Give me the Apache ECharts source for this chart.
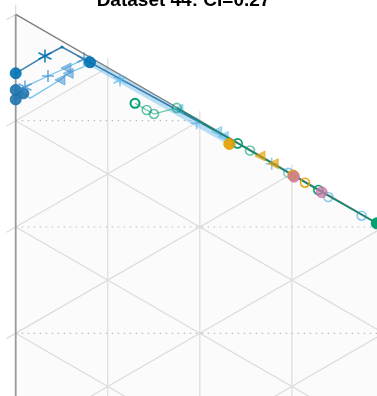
<!DOCTYPE html>
<html><head><meta charset="utf-8">
<script src="https://cdn.jsdelivr.net/npm/echarts@6/dist/echarts.min.js"></script>
<style>html,body{margin:0;padding:0;background:#fff}#c{width:377px;height:396px}</style>
</head><body><div id="c"></div>
<script>
// ---- text ----
const chartTitle = 'Dataset 44: CI=0.27';
// ---- ternary grid levels ----
const gridLevels = [0.1, 0.2, 0.3, 0.4, 0.5, 0.6, 0.7, 0.8, 0.9];
const dottedLevels = [0.9, 0.8, 0.7];
// ---- data: [c, b] ternary fractions (a = 1 - b - c) ----
const blueDark = [[0.000,0.0554],[0.0318,0.0232],[0.0503,0.0055],[0.0807,0.0047],[0.2002,0.0016],[0.2393,0.0004]];
const blueDarkMarks = ['fill','star','dot','fill','none','none'];
const blueMid = [[0.000,0.0711],[0.0101,0.0632],[0.0351,0.0404],[0.0546,0.0231],[0.0742,0.0049]];
const blueMidMarks = ['fillDark','star','plus','tri','star'];
const blueLow = [[0.000,0.0800],[0.0083,0.0701],[0.0155,0.0712],[0.0481,0.0376],[0.0570,0.0270],[0.0807,0.0063]];
const blueLowMarks = ['fillDark','fillDark','none','tri','tri','none'];
const blueBand = [[0.0785,0.0046],[0.2393,0.0034]];
const blueLight = [[0.1133,0.0051],[0.1763,0.0010],[0.1966,0.0041],[0.2183,0.0010],[0.2255,0.0020],[0.2781,0.0015],[0.2961,0.0010],[0.3396,0.0020],[0.3758,0.0015]];
const blueLightMarks = ['star','tri','plus','tri','tri','plus','open','open','open'];
const greenLight = [[0.1296,0.0188],[0.1423,0.0188],[0.1502,0.0186],[0.1749,0.0005]];
const greenLightMarks = ['openDark','open','open','open'];
const greenDark = [[0.1749,0.0005],[0.2411,0.0008],[0.2545,0.0008],[0.3287,0.0008],[0.3921,0.0005]];
const greenDarkMarks = ['none','open','openLight','open','fill'];
const orange = [[0.2320,0.0059],[0.2654,0.0005],[0.2798,0.0005],[0.3015,0.0008],[0.3143,0.0012]];
const orangeMarks = ['fill','tri','tri','fill','open'];
const pink = [[0.3023,0.0015],[0.3324,0.0011]];
const pinkMarks = ['fill','fill'];

// ternary -> cartesian (A top-left, B bottom-left, C right)
function toXY(c, b) { return [0.8660254 * c, 1 - b - 0.5 * c]; }

const TICK_B = 0.009, TICK_C = 0.01;
const gridSegs = [];
[0].concat(gridLevels).forEach(t => {
  const p1 = toXY(t, -TICK_B), p2 = t === 0 ? toXY(0, 0) : toXY(t, 1 - t);
  gridSegs.push([p1[0], p1[1], p2[0], p2[1]]);
});
gridLevels.concat([1]).forEach(t => {
  const p1 = toXY(-TICK_C, 1 - t + TICK_C), p2 = toXY(1 - t, 0);
  gridSegs.push([p1[0], p1[1], p2[0], p2[1]]);
});
gridLevels.forEach(t => {
  const p1 = toXY(0, t), p2 = toXY(1 - t, t);
  gridSegs.push([p1[0], p1[1], p2[0], p2[1]]);
});
const dottedSegs = dottedLevels.map(k => { const p1 = toXY(0, 1 - k), p2 = toXY(2 * (1 - k), 0); return [p1[0], p1[1], p2[0], p2[1]]; });
const edgeLeft = [[...toXY(0, 0), ...toXY(0, 1)]];
const edgeHyp = [[...toXY(0, 0), ...toXY(1, 0)]];
const triangle = [toXY(0, 0), toXY(0, 1), toXY(1, 0)];

function segSeries(segs, style, z) {
  return {
    type: 'custom', silent: true, z: z, clip: false, data: segs,
    renderItem: function (params, api) {
      const p1 = api.coord([api.value(0), api.value(1)]);
      const p2 = api.coord([api.value(2), api.value(3)]);
      return { type: 'line', shape: { x1: p1[0], y1: p1[1], x2: p2[0], y2: p2[1] }, style: Object.assign({ fill: null }, style) };
    }
  };
}
const polySeries = {
  type: 'custom', silent: true, z: 0, clip: false, data: [[0, 0]],
  renderItem: function (params, api) {
    return { type: 'polygon', shape: { points: triangle.map(p => api.coord(p)) }, style: { fill: '#fbfbfb', stroke: null } };
  }
};

const STAR = 'path://M0,-1L0,1M-0.866,-0.5L0.866,0.5M-0.866,0.5L0.866,-0.5';
const PLUS = 'path://M0,-1L0,1M-1,0L1,0';
function mark(kind, col, op) {
  op = op == null ? 1 : op;
  switch (kind) {
    case 'fill': return { symbol: 'circle', symbolSize: 11, itemStyle: { color: col, borderColor: col, borderWidth: 1, opacity: op } };
    case 'fillDark': return { symbol: 'circle', symbolSize: 11, itemStyle: { color: '#1f72ad', borderColor: '#1f72ad', borderWidth: 1, opacity: 0.9 } };
    case 'star': return { symbol: STAR, symbolSize: 13, itemStyle: { color: 'none', borderColor: col, borderWidth: 1.6, opacity: op } };
    case 'plus': return { symbol: PLUS, symbolSize: 12, itemStyle: { color: 'none', borderColor: col, borderWidth: 1.6, opacity: op } };
    case 'tri': return { symbol: 'triangle', symbolSize: 10, symbolRotate: 90, itemStyle: { color: col, borderColor: col, borderWidth: 1, opacity: op * 0.7 } };
    case 'open': return { symbol: 'circle', symbolSize: 9, itemStyle: { color: 'rgba(255,255,255,0)', borderColor: col, borderWidth: 1.6, opacity: op } };
    case 'openDark': return { symbol: 'circle', symbolSize: 9, itemStyle: { color: 'rgba(255,255,255,0)', borderColor: '#009E73', borderWidth: 2, opacity: 1 } };
    case 'openLight': return { symbol: 'circle', symbolSize: 9, itemStyle: { color: 'rgba(255,255,255,0)', borderColor: col, borderWidth: 1.6, opacity: 0.6 } };
    case 'dot': return { symbol: 'circle', symbolSize: 3, itemStyle: { color: col, opacity: op } };
    default: return { symbol: 'none', symbolSize: 0 };
  }
}
function dataSeries(pts, marks, col, lineOpts, op, z) {
  return {
    type: 'line', silent: true, z: z || 5, animation: false,
    showSymbol: true,
    lineStyle: lineOpts ? lineOpts : { width: 0, opacity: 0 },
    data: pts.map((p, i) => Object.assign({ value: toXY(p[0], p[1]) }, mark(marks[i], col, op)))
  };
}

const chart = echarts.init(document.getElementById('c'), null, { renderer: 'canvas' });
chart.setOption({
  animation: false,
  backgroundColor: '#ffffff',
  grid: { left: 0, right: 0, top: 0, bottom: 0, containLabel: false },
  xAxis: { type: 'value', min: -15.7 / 1063, max: 361.3 / 1063, show: false },
  yAxis: { type: 'value', min: 1 - 381.6 / 1063, max: 1 + 14.4 / 1063, show: false },
  graphic: [{
    type: 'text', x: 183.5, y: 10, z: 100,
    style: { text: chartTitle, align: 'center', verticalAlign: 'bottom', fill: '#000', font: 'bold 19px "Liberation Sans", Arial, sans-serif' }
  }],
  series: [
    polySeries,
    segSeries(gridSegs, { stroke: '#dcdcdc', lineWidth: 1.2 }, 1),
    segSeries(dottedSegs, { stroke: '#bdbdbd', lineWidth: 1.2, lineDash: [1.5, 4.5] }, 2),
    segSeries(edgeLeft, { stroke: '#9a9a9a', lineWidth: 1.8 }, 3),
    segSeries(edgeHyp, { stroke: '#7f7f7f', lineWidth: 1.3 }, 3),
    { type: 'line', silent: true, z: 4, symbol: 'none', data: blueBand.map(p => toXY(p[0], p[1])),
      lineStyle: { color: '#56B4E9', width: 7, opacity: 0.4, cap: 'butt' } },
    dataSeries(blueLow, blueLowMarks, '#3b8fcf', { color: '#56B4E9', width: 1.3, opacity: 0.8 }, 0.75, 5),
    dataSeries(blueMid, blueMidMarks, '#3b8fcf', { color: '#56B4E9', width: 1.3, opacity: 0.8 }, 0.75, 5),
    dataSeries(blueDark, blueDarkMarks, '#0072B2', { color: '#2a6fa3', width: 1.5, opacity: 0.9 }, 0.9, 6),
    dataSeries(blueLight, blueLightMarks, '#56B4E9', null, 0.7, 6),
    dataSeries(greenLight, greenLightMarks, '#009E73', { color: '#3fb791', width: 1.2, opacity: 0.8 }, 0.6, 7),
    dataSeries(greenDark, greenDarkMarks, '#009E73', { color: '#17876b', width: 1.6, opacity: 1 }, 1, 7),
    dataSeries(orange, orangeMarks, '#E69F00', null, 0.9, 8),
    dataSeries(pink, pinkMarks, '#CC79A7', null, 0.75, 8)
  ]
});
</script>
</body></html>
